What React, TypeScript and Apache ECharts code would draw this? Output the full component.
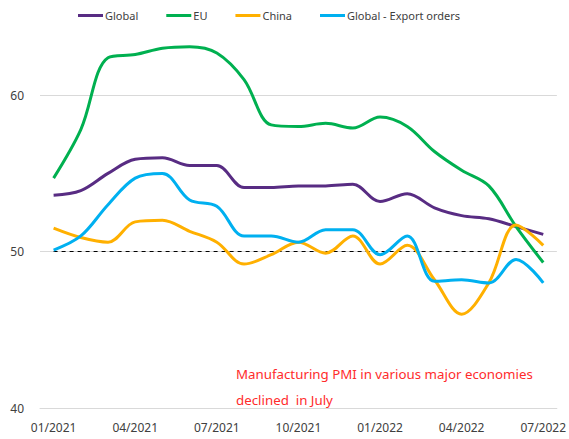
import React, { useEffect, useRef } from "react";
import * as echarts from "echarts";

const months = [
  "01/2021", "02/2021", "03/2021", "04/2021", "05/2021", "06/2021", "07/2021",
  "08/2021", "09/2021", "10/2021", "11/2021", "12/2021", "01/2022", "02/2022",
  "03/2022", "04/2022", "05/2022", "06/2022", "07/2022",
];
const globalPMI = [53.6, 53.9, 55.0, 55.9, 56.0, 55.5, 55.5, 54.1, 54.1, 54.2, 54.2, 54.3, 53.2, 53.7, 52.8, 52.3, 52.1, 51.6, 51.1];
const euPMI = [54.7, 57.8, 62.4, 62.6, 63.0, 63.1, 62.7, 61.0, 58.1, 58.0, 58.2, 57.9, 58.6, 58.0, 56.4, 55.2, 54.2, 51.6, 49.3];
const chinaPMI = [51.5, 50.9, 50.6, 51.9, 52.0, 51.3, 50.6, 49.2, 49.8, 50.6, 49.9, 51.0, 49.2, 50.4, 48.2, 46.0, 48.0, 51.7, 50.4];
const exportPMI = [50.1, 51.0, 53.0, 54.7, 55.0, 53.3, 52.9, 51.0, 51.0, 50.6, 51.4, 51.4, 49.8, 51.0, 48.1, 48.2, 48.0, 49.5, 48.0];
const yTicks = { min: 40, max: 65, interval: 10 };
const noteLines = ["Manufacturing PMI in various major economies", "declined  in July"];

const FONT = "Noto Sans";

export default function App() {
  const ref = useRef<HTMLDivElement>(null);
  useEffect(() => {
    if (!ref.current) return;
    const chart = echarts.init(ref.current, null, { renderer: "svg" });
    const mk = (name: string, data: number[], color: string, extra: any = {}) => ({
      name,
      type: "line",
      data,
      smooth: 0.35,
      symbol: "none",
      lineStyle: { color, width: 3 },
      itemStyle: { color },
      z: 3,
      ...extra,
    });
    chart.setOption({
      animation: false,
      textStyle: { fontFamily: FONT },
      legend: {
        top: 10,
        left: 78,
        padding: 0,
        itemWidth: 25,
        itemHeight: 3,
        itemGap: 28,
        icon: "rect",
        textStyle: { fontFamily: FONT, fontSize: 11, color: "#404040", padding: [0, 0, 0, -3] },
        data: ["Global", "EU", "China", "Global - Export orders"],
      },
      grid: { left: 40, right: 9, top: 17, bottom: 31 },
      xAxis: {
        type: "category",
        data: months,
        boundaryGap: true,
        axisLine: { lineStyle: { color: "#d9d9d9", width: 1 } },
        axisTick: { interval: 2, length: 4, lineStyle: { color: "#d9d9d9" } },
        axisLabel: { interval: 2, margin: 13, fontSize: 12, color: "#404040", fontFamily: FONT },
      },
      yAxis: {
        type: "value",
        min: yTicks.min,
        max: yTicks.max,
        interval: yTicks.interval,
        axisLine: { show: false },
        axisTick: { show: false },
        splitLine: { show: false },
        axisLabel: { showMaxLabel: false, margin: 16, fontSize: 12, color: "#404040", fontFamily: FONT },
      },
      graphic: [
        {
          type: "text",
          left: 236,
          top: 361,
          style: {
            text: noteLines.join("\n"),
            fill: "#ff2b2b",
            font: `13.3px "${FONT}"`,
            lineHeight: 26,
          },
        },
      ],
      series: [
        mk("Global", globalPMI, "#582c83", {
          markLine: {
            silent: true,
            symbol: "none",
            label: { show: false },
            data: [
              { yAxis: 60, lineStyle: { color: "#d9d9d9", type: "solid", width: 1 } },
              { yAxis: 50, lineStyle: { color: "#d9d9d9", type: "solid", width: 1 } },
              [
                { coord: [0, 50], lineStyle: { color: "#000", type: [4, 4], width: 1 } },
                { coord: [months.length - 1, 50] },
              ],
            ],
            z: 2,
          },
        }),
        mk("EU", euPMI, "#00b050"),
        mk("China", chinaPMI, "#ffb000"),
        mk("Global - Export orders", exportPMI, "#00b0f0"),
      ],
    });
    return () => chart.dispose();
  }, []);
  return <div ref={ref} style={{ width: 569, height: 439, position: "absolute", left: 0, top: 0 }} />;
}
